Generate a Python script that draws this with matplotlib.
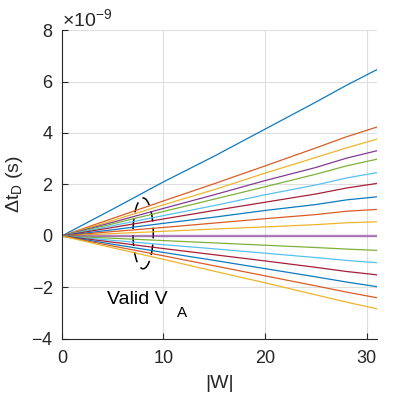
import numpy as np
import matplotlib
matplotlib.use("Agg")
import matplotlib.pyplot as plt
from matplotlib.patches import Ellipse
from matplotlib.ticker import ScalarFormatter

plt.rcParams['font.family'] = ['Liberation Sans', 'DejaVu Sans']
plt.rcParams['mathtext.fontset'] = 'custom'
plt.rcParams['mathtext.rm'] = 'Liberation Sans'
plt.rcParams['mathtext.it'] = 'Liberation Sans:italic'

# |W| sample points and delta t_D (units of 1e-9 s)
w = [0, 5, 10, 15, 20, 25, 28, 31]
dt = [
    [0, 1.04, 2.10, 3.10, 4.15, 5.20, 5.85, 6.46],
    [0, 0.68, 1.36, 2.03, 2.72, 3.42, 3.85, 4.23],
    [0, 0.60, 1.21, 1.80, 2.44, 3.05, 3.42, 3.76],
    [0, 0.53, 1.07, 1.60, 2.15, 2.66, 3.02, 3.31],
    [0, 0.47, 0.95, 1.43, 1.91, 2.40, 2.72, 2.98],
    [0, 0.40, 0.79, 1.18, 1.60, 1.98, 2.25, 2.46],
    [0, 0.33, 0.66, 0.99, 1.31, 1.63, 1.86, 2.04],
    [0, 0.24, 0.49, 0.73, 0.99, 1.22, 1.40, 1.52],
    [0, 0.17, 0.33, 0.50, 0.67, 0.83, 0.96, 1.03],
    [0, 0.09, 0.18, 0.27, 0.35, 0.44, 0.51, 0.55],
    [0, 0, 0, 0, 0, 0, 0, 0],
    [0, -0.09, -0.18, -0.27, -0.36, -0.45, -0.51, -0.56],
    [0, -0.17, -0.34, -0.50, -0.67, -0.84, -0.95, -1.04],
    [0, -0.24, -0.49, -0.73, -0.97, -1.22, -1.38, -1.51],
    [0, -0.32, -0.64, -0.95, -1.27, -1.59, -1.79, -1.97],
    [0, -0.39, -0.77, -1.16, -1.55, -1.94, -2.18, -2.40],
    [0, -0.46, -0.91, -1.37, -1.82, -2.29, -2.57, -2.83],
]

# matlab default color order
colors = [(0, 0.447, 0.741), (0.85, 0.325, 0.098), (0.929, 0.694, 0.125),
          (0.494, 0.184, 0.556), (0.466, 0.674, 0.188), (0.301, 0.745, 0.933),
          (0.635, 0.078, 0.184)]
ax_col = (0.15, 0.15, 0.15)

fig = plt.figure(figsize=(4.15, 3.95), dpi=100)
ax = fig.add_axes([0.149, 0.142, 0.759, 0.782])

for i, row in enumerate(dt):
    if i == 10:
        # zero line looks lighter and thicker in the original
        ax.plot(w, np.array(row) * 1e-9, color=colors[i % 7], lw=1.7, alpha=0.6)
    else:
        ax.plot(w, np.array(row) * 1e-9, color=colors[i % 7], lw=0.9, alpha=0.95)

# valid V_A region
ax.add_patch(Ellipse((8, 0.1e-9), 2.0, 2.75e-9, fill=False, ec='k',
                     lw=1.1, ls=(0, (7, 4))))
ax.text(4.4, -2.66e-9, 'Valid V', fontsize=14, color='k', va='baseline')
ax.text(11.3, -3.16e-9, 'A', fontsize=11, color='k', va='baseline')

ax.set_xlim(0, 31)
ax.set_ylim(-4e-9, 8e-9)
ax.set_xticks([0, 10, 20, 30])
ax.set_yticks(np.arange(-4, 9, 2) * 1e-9)
fmt = ScalarFormatter(useMathText=True)
fmt.set_powerlimits((0, 0))
ax.yaxis.set_major_formatter(fmt)
ax.yaxis.get_offset_text().set_fontsize(14)
ax.yaxis.get_offset_text().set_color(ax_col)

ax.grid(True, color=(0.87, 0.87, 0.87), lw=0.8)
ax.set_axisbelow(True)
for s in ['top', 'right']:
    ax.spines[s].set_visible(False)
for s in ['left', 'bottom']:
    ax.spines[s].set_color(ax_col)
    ax.spines[s].set_linewidth(0.8)
ax.tick_params(direction='in', length=4, width=0.8, colors=ax_col,
               labelsize=13, pad=6)
ax.tick_params(axis='x', pad=8)

ax.set_xlabel('|W|', fontsize=14, color=ax_col, labelpad=6)
ax.set_ylabel(r'$\Delta$t$_{\rm D}$ (s)', fontsize=14, color=ax_col, labelpad=5)

fig.savefig('out.png', dpi=100)
